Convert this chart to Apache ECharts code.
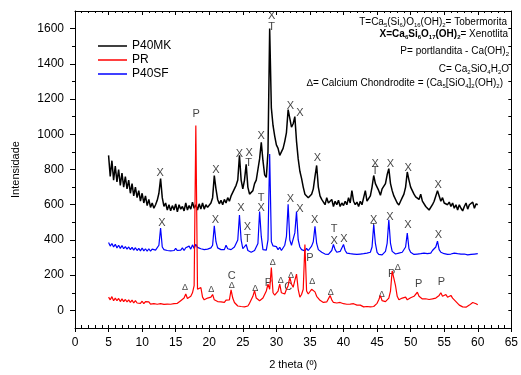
<!DOCTYPE html>
<html>
<head>
<meta charset="utf-8">
<script src="https://cdn.jsdelivr.net/npm/echarts@6/dist/echarts.min.js"></script>
<style>
  html, body { margin: 0; padding: 0; background: #fff; }
  #chart { width: 521px; height: 375px; }
</style>
</head>
<body>
<div id="chart"></div>
<script>
// 2 theta grid: 5.00 .. 60.00 every 0.25 deg
const THETA_START = 5;
const THETA_STEP = 0.25;

const p40mk = [
  880, 760, 850, 740,  820, 730, 800, 710,  780, 700, 760, 690,  740, 665, 720, 650,
  700, 640, 680, 620,  665, 610, 650, 595,  630, 585, 610, 580,  600, 625, 665, 748,
  640, 590, 610, 570,  600, 565, 595, 570,  605, 560, 600, 575,  590, 565, 610, 570,
  595, 575, 615, 580,  600, 570, 605, 575,  610, 575, 600, 585,  595, 610, 640, 765,
  690, 630, 605, 625,  600, 630, 610, 640,  620, 650, 640, 690,  710, 740, 880, 740,
  690, 740, 830, 700,  660, 650, 680, 720,  740, 800, 860, 955,  850, 770, 755, 900,
  1600, 1150, 1050, 990,  940, 920, 880, 900,  920, 960, 1010, 1140,  1090, 1040, 1060, 1100,
  960, 860, 790, 750,  700, 660, 650, 640,  640, 660, 690, 760,  823, 700, 650, 630,
  620, 600, 640, 610,  600, 630, 590, 620,  600, 625, 590, 610,  595, 620, 600, 640,
  610, 680, 620, 600,  615, 590, 620, 600,  640, 680, 620, 630,  650, 700, 766, 720,
  700, 680, 654, 690,  690, 720, 770, 805,  720, 680, 650, 640,  610, 598, 620, 640,
  660, 700, 786, 740,  700, 680, 660, 645,  640, 630, 660, 620,  610, 590, 600, 570,
  580, 600, 620, 650,  680, 650, 620, 640,  610, 620, 600, 615,  590, 610, 580, 600,
  570, 600, 580, 565,  590, 610, 575, 600,  590, 615, 580, 605,  600
];

const pr = [
  75, 60, 78, 55,  70, 55, 68, 50,  65, 50, 62, 48,  60, 45, 58, 42,
  55, 42, 52, 40,  52, 38, 50, 40,  48, 36, 46, 38,  45, 35, 44, 38,
  42, 34, 45, 36,  44, 35, 42, 38,  45, 40, 50, 55,  60, 70, 93, 68,
  70, 80, 100, 140,  1050, 120, 110, 130,  75, 60, 65, 70,  65, 75, 90, 60,
  55, 50, 60, 48,  52, 45, 58, 50,  60, 116, 70, 45,  35, 25, 30, 22,
  28, 20, 30, 25,  40, 60, 80, 112,  70, 60, 55, 65,  70, 90, 110, 149,
  120, 243, 100, 86,  95, 110, 149, 100,  95, 93, 120, 140,  187, 150, 131, 170,
  206, 120, 75, 90,  120, 374, 110, 93,  100, 120, 131, 105,  80, 70, 57, 50,
  45, 40, 48, 42,  84, 60, 45, 40,  42, 38, 45, 40,  38, 42, 35, 40,
  36, 30, 38, 32,  30, 25, 30, 22,  20, 15, 22, 18,  20, 25, 22, 30,
  40, 60, 84, 55,  45, 50, 60, 70,  110, 224, 215, 140,  80, 60, 57, 70,
  65, 75, 60, 70,  72, 65, 80, 70,  103, 80, 70, 65,  60, 66, 55, 62,
  55, 65, 60, 70,  75, 85, 100, 80,  70, 90, 75, 80,  85, 70, 60, 50,
  40, 30, 25, 20,  22, 18, 25, 30,  40, 45, 35, 38,  32
];

const p40sf = [
  385, 365, 380, 360,  375, 355, 370, 352,  368, 350, 362, 348,  360, 345, 358, 342,
  356, 340, 352, 338,  354, 338, 350, 336,  350, 336, 348, 340,  342, 350, 370, 467,
  360, 345, 352, 340,  350, 338, 348, 340,  352, 340, 350, 342,  355, 340, 356, 345,
  365, 348, 372, 352,  375, 358, 368, 350,  360, 345, 355, 348,  352, 355, 370, 480,
  390, 355, 350, 345,  352, 345, 370, 350,  348, 345, 352, 360,  365, 400, 542, 400,
  350, 345, 374, 340,  335, 330, 338, 340,  350, 380, 561, 420,  345, 338, 342, 400,
  888, 390, 366, 355,  362, 345, 358, 340,  350, 370, 420, 602,  400, 370, 380, 440,
  561, 400, 360, 345,  350, 338, 352, 340,  350, 365, 390, 477,  380, 345, 335, 330,
  325, 320, 328, 318,  325, 340, 374, 345,  330, 340, 335, 330,  374, 340, 325, 318,
  322, 315, 320, 312,  318, 312, 320, 315,  322, 315, 325, 318,  330, 360, 486, 380,
  330, 318, 322, 315,  325, 335, 380, 514,  380, 335, 325, 320,  318, 325, 320, 330,
  335, 360, 439, 350,  330, 322, 318, 325,  320, 315, 322, 318,  325, 335, 322, 330,
  325, 340, 350, 360,  393, 345, 330, 325,  322, 330, 318, 325,  320, 315, 325, 318,
  322, 312, 320, 315,  320, 325, 315, 322,  318, 325, 320, 315,  322
];

// peak marks: [2 theta, intensity, text]
const labelsMK = [
  [12.7, 782, 'X'], [21.0, 799, 'X'], [24.5, 888, 'X'], [25.95, 894, 'X'], [25.85, 838, 'T'],
  [27.74, 991, 'X'], [29.3, 1674, 'X'], [29.3, 1612, 'T'], [32.1, 1159, 'X'], [33.5, 1122, 'X'],
  [36.1, 864, 'X'], [44.7, 832, 'X'], [44.7, 789, 'T'], [47.0, 832, 'X'], [49.65, 808, 'X'],
  [54.1, 714, 'X']
];
const labelsSF = [
  [12.94, 496, 'X'], [20.93, 514, 'X'], [24.7, 584, 'X'], [25.67, 471, 'X'], [25.67, 404, 'T'],
  [27.74, 640, 'T'], [27.74, 584, 'X'], [32.1, 630, 'X'], [33.5, 576, 'X'], [35.7, 514, 'X'],
  [38.6, 462, 'T'], [38.6, 396, 'X'], [40.07, 407, 'X'], [44.5, 514, 'X'], [44.5, 467, 'T'],
  [46.9, 529, 'X'], [49.6, 486, 'X'], [54.15, 428, 'X']
];
const labelsPR = [
  [18.06, 1118, 'P'], [16.4, 131, 'Δ'], [20.3, 121, 'Δ'], [23.35, 196, 'C'], [23.35, 140, 'Δ'],
  [26.85, 127, 'Δ'], [28.82, 155, 'P'], [29.46, 271, 'Δ'], [30.65, 168, 'Δ'], [31.78, 131, 'C'],
  [32.18, 200, 'Δ'], [35.0, 299, 'P'], [35.34, 163, 'Δ'], [38.1, 99, 'Δ'], [45.7, 88, 'Δ'],
  [47.18, 209, 'P'], [48.07, 243, 'Δ'], [51.18, 149, 'P'], [54.6, 164, 'P']
];

const yLabelValues = [0, 200, 400, 600, 800, 1000, 1200, 1400, 1600];
const yMinorValues = [100, 300, 500, 700, 900, 1100, 1300, 1500];
const yRightValues = [0, 100, 200, 300, 400, 500, 600, 700, 800, 900, 1000, 1100, 1200, 1300, 1400, 1500, 1600];

const FONT = "'Liberation Sans', Arial, Helvetica, sans-serif";

function toPoints(values) {
  return values.map((v, i) => [THETA_START + i * THETA_STEP, v]);
}

function labelItems(list) {
  return list.map(([x, y, t]) => ({
    value: [x, y],
    name: t,
    label: { fontSize: t === 'Δ' ? 9 : 11 },
  }));
}

const chart = echarts.init(document.getElementById('chart'), null, { renderer: 'canvas' });

const sub = { fontSize: 6, lineHeight: 6, verticalAlign: 'bottom', fontFamily: FONT };
const n = { fontSize: 10, lineHeight: 13, verticalAlign: 'middle', fontFamily: FONT };
const b = { fontSize: 10, lineHeight: 13, verticalAlign: 'middle', fontWeight: 'bold', fontFamily: FONT };
const bs = { fontSize: 6, lineHeight: 6, verticalAlign: 'bottom', fontWeight: 'bold', fontFamily: FONT };

function legendText(x, y, text) {
  return {
    type: 'text',
    x: x,
    y: y,
    silent: true,
    style: {
      text: text,
      align: 'right',
      verticalAlign: 'middle',
      fill: '#000',
      rich: { n: n, s: sub, b: b, bs: bs },
    },
  };
}

const axisLineStyle = { color: '#000', width: 1 };

const option = {
  animation: false,
  backgroundColor: '#fff',
  grid: { left: 75, right: 7, top: 11, bottom: 43 },
  legend: {
    data: ['P40MK', 'PR', 'P40SF'],
    orient: 'vertical',
    left: 98,
    top: 40,
    padding: 0,
    icon: 'rect',
    itemWidth: 29,
    itemHeight: 1.5,
    itemGap: 2,
    textStyle: { fontSize: 12, color: '#000', fontFamily: FONT },
  },
  xAxis: [
    {
      type: 'value', min: 0, max: 65, interval: 5, position: 'bottom',
      axisLine: { onZero: false, lineStyle: axisLineStyle },
      axisTick: { length: 4, lineStyle: axisLineStyle },
      axisLabel: { color: '#000', fontSize: 12, margin: 9, fontFamily: FONT },
      splitLine: { show: false },
      name: '2 theta (º)', nameLocation: 'middle', nameGap: 31,
      nameTextStyle: { fontSize: 11, color: '#000', fontFamily: FONT },
    },
    {
      type: 'value', min: 0, max: 65, interval: 1, position: 'bottom',
      axisLine: { show: false, onZero: false },
      axisTick: { inside: true, length: 3, lineStyle: axisLineStyle },
      axisLabel: { show: false },
      splitLine: { show: false },
    },
    {
      type: 'value', min: 0, max: 65, interval: 5, position: 'top',
      axisLine: { onZero: false, lineStyle: axisLineStyle },
      axisTick: { inside: true, length: 4, lineStyle: axisLineStyle },
      minorTick: { show: true, splitNumber: 5, length: 2, lineStyle: axisLineStyle },
      axisLabel: { show: false },
      splitLine: { show: false },
    },
  ],
  yAxis: [
    {
      type: 'value', min: -100, max: 1700, position: 'left',
      axisLine: { show: true, onZero: false, lineStyle: axisLineStyle },
      axisTick: { show: true, length: 5, customValues: yLabelValues, lineStyle: axisLineStyle },
      axisLabel: {
        color: '#000', fontSize: 12, margin: 11, fontFamily: FONT,
        customValues: yLabelValues, formatter: (v) => String(v),
      },
      splitLine: { show: false },
      name: 'Intensidade', nameLocation: 'middle', nameGap: 54, nameRotate: 90,
      nameTextStyle: { fontSize: 11, color: '#000', fontFamily: FONT },
    },
    {
      type: 'value', min: -100, max: 1700, position: 'left',
      axisLine: { show: false, onZero: false },
      axisTick: { show: true, length: 3, customValues: yMinorValues, lineStyle: axisLineStyle },
      axisLabel: { show: false },
      splitLine: { show: false },
    },
    {
      type: 'value', min: -100, max: 1700, position: 'right',
      axisLine: { show: true, onZero: false, lineStyle: axisLineStyle },
      axisTick: { show: true, inside: true, length: 3, customValues: yRightValues, lineStyle: axisLineStyle },
      axisLabel: { show: false },
      splitLine: { show: false },
    },
  ],
  graphic: [
    legendText(507, 22, '{n|T=Ca}{s|5}{n|(Si}{s|6}{n|)O}{s|16}{n|(OH)}{s|2}{n|= Tobermorita}'),
    legendText(508, 34, '{b|X=Ca}{bs|6}{b|Si}{bs|6}{b|O}{bs|17}{b|(OH)}{bs|2}{n|= Xenotlita}'),
    legendText(509, 51, '{n|P= portlandita - Ca(OH)}{s|2}'),
    legendText(509, 69, '{n|C= Ca}{s|2}{n|SiO}{s|4}{n|H}{s|2}{n|O}'),
    legendText(503, 83, '{n|∆= Calcium Chondrodite = (Ca}{s|5}{n|[SiO}{s|4}{n|]}{s|2}{n|(OH)}{s|2}{n|)}'),
  ],
  series: [
    {
      name: 'P40MK', type: 'line', data: toPoints(p40mk), symbol: 'none',
      lineStyle: { color: '#000', width: 1.5 }, itemStyle: { color: '#000' },
    },
    {
      name: 'P40SF', type: 'line', data: toPoints(p40sf), symbol: 'none',
      lineStyle: { color: '#0000ff', width: 1.2 }, itemStyle: { color: '#0000ff' },
    },
    {
      name: 'PR', type: 'line', data: toPoints(pr), symbol: 'none',
      lineStyle: { color: '#ff0000', width: 1.2 }, itemStyle: { color: '#ff0000' },
    },
    {
      name: 'marks', type: 'scatter', symbolSize: 1, silent: true,
      itemStyle: { color: 'transparent' },
      label: { show: true, position: 'inside', color: '#111', fontFamily: FONT, formatter: '{b}' },
      data: labelItems(labelsMK.concat(labelsSF, labelsPR)),
    },
  ],
};

chart.setOption(option);
</script>
</body>
</html>
